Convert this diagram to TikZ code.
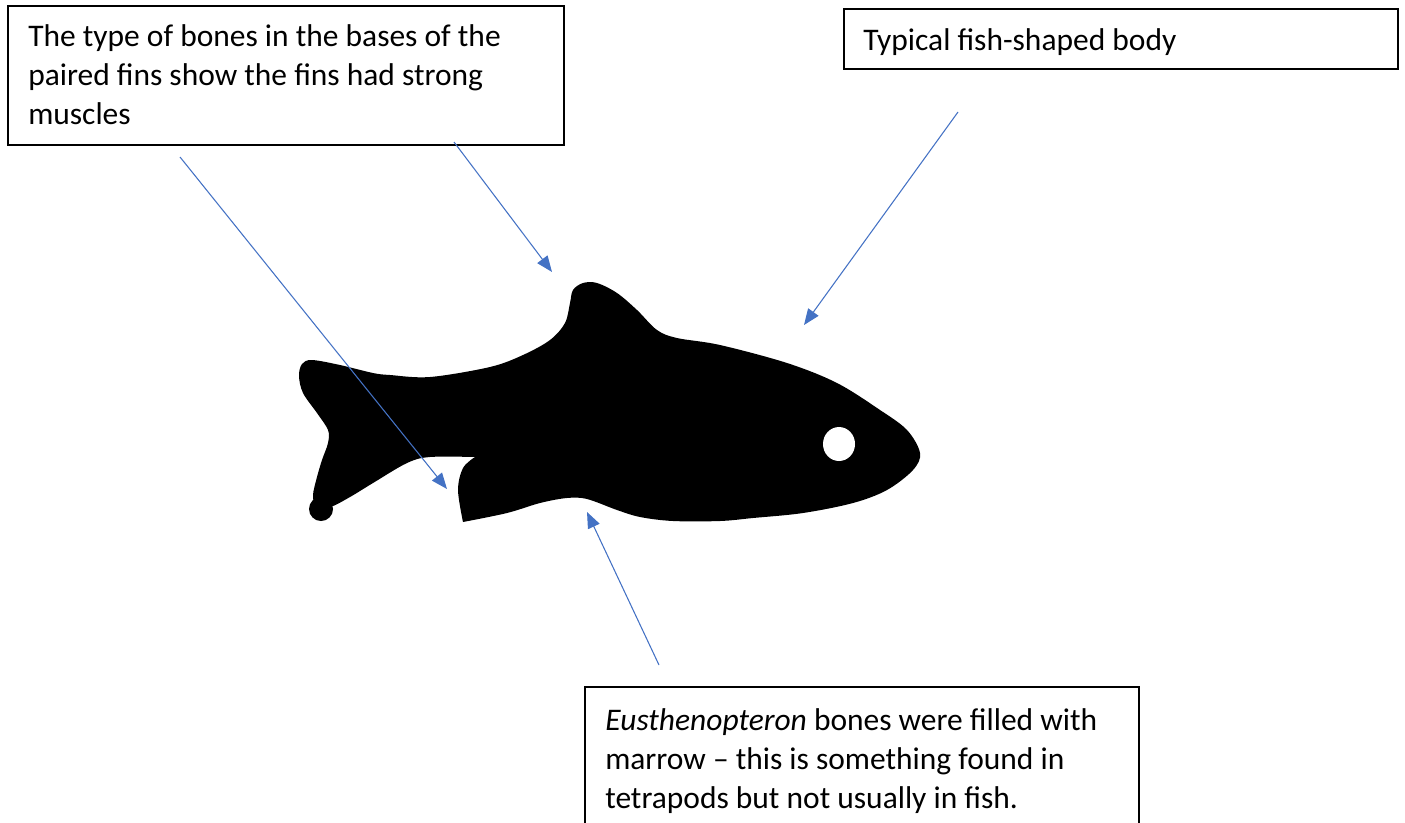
\documentclass[tikz,border=0pt]{standalone}
\usepackage{fontspec}
\setmainfont{Carlito}
\usetikzlibrary{arrows.meta}
\definecolor{callout}{HTML}{4472C4}
\begin{document}
\begin{tikzpicture}[x=0.75pt,y=-0.75pt,
  label box/.style={draw=black, line width=1.4pt, inner sep=0pt, anchor=north west},
  label text/.style={anchor=base west, align=left, inner sep=0pt,
    font=\fontsize{23.6}{29}\selectfont},
  pointer/.style={draw=callout, line width=0.8pt,
    -{Triangle[length=12pt,width=9.5pt]}},
]
\clip (0,0) rectangle (1405,822);

% text boxes (text nodes are placed by the baseline of their last line)
\node[label box, minimum width=417pt, minimum height=104.25pt] (finsbox) at (7,5) {};
\node[label text] (finsnote) at (28,124)
  {The type of bones in the bases of the\\paired fins show the fins had strong\\muscles};

\node[label box, minimum width=415.5pt, minimum height=45pt] (bodybox) at (843,8) {};
\node[label text] (bodynote) at (863,50) {Typical fish-shaped body};

\node[label box, minimum width=415.5pt, minimum height=120pt] (marrowbox) at (584,686) {};
\node[label text] (marrownote) at (605,808)
  {\textit{Eusthenopteron} bones were filled with\\marrow -- this is something found in\\tetrapods but not usually in fish.};

% fish silhouette
\fill[black]
  plot[smooth, tension=0.55] coordinates {
    (463,522) (507,513) (540,503) (567,498) (587,499) (617,510) (640,517)
    (673,521) (720,521) (753,518) (803,513) (853,503) (887,490) (913,470)
    (920,453) (907,430) (880,410) (837,383) (787,363) (720,345) (677,338)
    (657,330) (637,310) (617,293) (597,283) (583,283) (573,290) (570,303)
    (565,323) (550,340) (523,355) (490,367) (430,377) (390,375) (373,373)
    (340,365) (312,360) (302,364) (299,376) (303,393) (317,413) (328,430)
    (328,443) (322,460) (317,477) (313,495) (316,505) (330,507) (350,497)
    (373,483) (407,463) (430,457) (475,457)}
  -- plot[smooth, tension=0.55] coordinates {
    (475,457) (463,468) (458,490) (463,522)}
  -- cycle;
\fill[black] (321,509) circle (12);
\fill[white] (839,444) ellipse (16 and 17);

% callout arrows
\coordinate (finsfrom) at (180,157);
\coordinate (pelvic) at (447,489);
\coordinate (finsfromb) at (454,142);
\coordinate (dorsal) at (552,272);
\coordinate (bodyfrom) at (958,112);
\coordinate (back) at (804,325);
\coordinate (marrowfrom) at (659,665);
\coordinate (belly) at (587,512);

\draw[pointer] (finsfrom) -- (pelvic);
\draw[pointer] (finsfromb) -- (dorsal);
\draw[pointer] (bodyfrom) -- (back);
\draw[pointer] (marrowfrom) -- (belly);
\end{tikzpicture}
\end{document}
